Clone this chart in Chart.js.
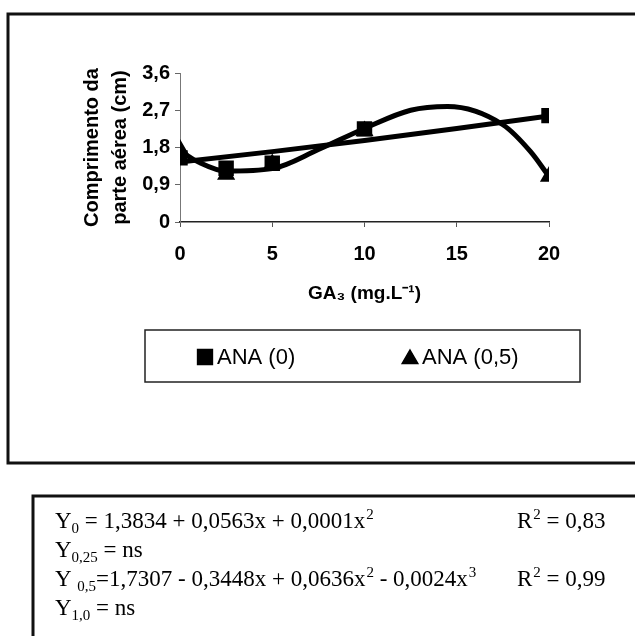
<!DOCTYPE html>
<html>
<head>
<meta charset="utf-8">
<script src="https://cdn.jsdelivr.net/npm/chart.js@4/dist/chart.umd.min.js"></script>
<style>
  html, body { margin: 0; padding: 0; background: #fff; }
  canvas { display: block; }
</style>
</head>
<body>
<canvas id="chart" width="635" height="636"></canvas>
<script>
// GA3 doses (mg/L) and shoot length (cm) for each ANA level
const doses = [0, 2.5, 5, 10, 20];
const ana0 = [1.55, 1.3, 1.42, 2.25, 2.57];
const ana05 = [1.75, 1.15, 1.4, 2.2, 1.1];

// fitted trend lines
const trendX = [0, 5, 10, 15, 20];
const trend0 = [1.45, 1.70, 1.97, 2.26, 2.56];
const curveX = [0, 1, 2.5, 5, 7.5, 10, 12.5, 14.5, 17.5, 19, 20];
const curve05 = [1.72, 1.45, 1.23, 1.29, 1.75, 2.26, 2.7, 2.79, 2.35, 1.7, 1.1];

const xTicks = [0, 5, 10, 15, 20];
const yTicks = [0, 0.9, 1.8, 2.7, 3.6];

const seriesLabels = ['ANA (0)', 'ANA (0,5)'];

// regression text under the chart
const equations = [
  { parts: [['Y'], ['0', 'sub'], [' = 1,3834 + 0,0563x + 0,0001x'], ['2', 'sup']],
    r2: [['R'], ['2', 'sup'], [' = 0,83']] },
  { parts: [['Y'], ['0,25', 'sub'], [' = ns']] },
  { parts: [['Y '], ['0,5', 'sub'], ['=1,7307 - 0,3448x + 0,0636x'], ['2', 'sup'], [' - 0,0024x'], ['3', 'sup']],
    r2: [['R'], ['2', 'sup'], [' = 0,99']] },
  { parts: [['Y'], ['1,0', 'sub'], [' = ns']] }
];

const SANS = '"Liberation Sans", Arial, sans-serif';

function pts(xs, ys) {
  return xs.map((x, i) => ({ x: x, y: ys[i] }));
}

function drawRich(ctx, parts, x, y) {
  for (let p of parts) {
    let kind = p[1];
    if (kind === 'sub') {
      ctx.font = '15px "Liberation Serif", serif';
      ctx.fillText(p[0], x, y + 5);
    } else if (kind === 'sup') {
      ctx.font = '15px "Liberation Serif", serif';
      ctx.fillText(p[0], x + 1, y - 9);
    } else {
      ctx.font = '23px "Liberation Serif", serif';
      ctx.fillText(p[0], x, y);
    }
    x += ctx.measureText(p[0]).width + (kind === 'sup' ? 1 : 0);
  }
}

const framePlugin = {
  id: 'frames',
  beforeDraw(chart) {
    let ctx = chart.ctx;
    ctx.save();
    ctx.fillStyle = '#fff';
    ctx.fillRect(0, 0, chart.width, chart.height);
    ctx.strokeStyle = '#111';
    ctx.lineWidth = 3;
    ctx.strokeRect(8, 14, 700, 449);
    ctx.strokeRect(33, 496, 700, 200);
    ctx.restore();
  },
  afterDraw(chart) {
    let ctx = chart.ctx;
    ctx.save();

    // legend box
    ctx.strokeStyle = '#222';
    ctx.lineWidth = 1.5;
    ctx.strokeRect(145, 330, 435, 52);
    let items = [
      { ds: chart.data.datasets[0], x: 205 },
      { ds: chart.data.datasets[1], x: 410 }
    ];
    ctx.textBaseline = 'middle';
    ctx.textAlign = 'left';
    for (let it of items) {
      let isRect = it.ds.pointStyle === 'rect';
      ctx.fillStyle = '#000';
      ctx.strokeStyle = '#000';
      Chart.helpers.drawPoint(ctx, {
        pointStyle: it.ds.pointStyle,
        radius: isRect ? 10.5 : 9,
        borderWidth: 1.5,
        rotation: 0
      }, it.x, isRect ? 357 : 359);
      ctx.fill();
      ctx.fillStyle = '#000';
      ctx.font = '22px ' + SANS;
      ctx.fillText(it.ds.label, it.x + 12, 358);
    }

    // equations
    ctx.fillStyle = '#000';
    ctx.textBaseline = 'alphabetic';
    let baselines = [528, 557, 586, 615];
    equations.forEach((eq, i) => {
      drawRich(ctx, eq.parts, 55, baselines[i]);
      if (eq.r2) drawRich(ctx, eq.r2, 517, baselines[i]);
    });
    ctx.restore();
  }
};

new Chart(document.getElementById('chart'), {
  type: 'scatter',
  data: {
    datasets: [
      {
        label: seriesLabels[0],
        data: pts(doses, ana0),
        pointStyle: 'rect',
        pointRadius: 9.5,
        pointBorderWidth: 2,
        backgroundColor: '#000',
        borderColor: '#000',
        showLine: false,
        order: 1
      },
      {
        label: seriesLabels[1],
        data: pts(doses, ana05),
        pointStyle: 'triangle',
        pointRadius: 8.5,
        pointBorderWidth: 2,
        backgroundColor: '#000',
        borderColor: '#000',
        showLine: false,
        order: 0
      },
      {
        label: 'trend0',
        data: pts(trendX, trend0),
        showLine: true,
        pointRadius: 0,
        borderColor: '#000',
        borderWidth: 5,
        order: 3
      },
      {
        label: 'trend05',
        data: pts(curveX, curve05),
        showLine: true,
        pointRadius: 0,
        borderColor: '#000',
        borderWidth: 5,
        cubicInterpolationMode: 'monotone',
        order: 2
      }
    ]
  },
  options: {
    responsive: false,
    animation: false,
    layout: { padding: { left: 74, right: 86, top: 73, bottom: 327 } },
    plugins: {
      legend: { display: false },
      tooltip: { enabled: false }
    },
    scales: {
      x: {
        type: 'linear',
        min: 0,
        max: 20,
        afterBuildTicks: (s) => { s.ticks = xTicks.map(v => ({ value: v })); },
        afterFit: (s) => { s.height = 87; },
        grid: { drawOnChartArea: false, drawTicks: true, tickLength: 5, color: '#555' },
        border: { color: '#222', width: 1.5, dash: [8, 2] },
        ticks: {
          padding: 15,
          color: '#000',
          font: { family: SANS, weight: 'bold', size: 20 }
        },
        title: {
          display: true,
          text: 'GA₃ (mg.L⁻¹)',
          color: '#000',
          font: { family: SANS, weight: 'bold', size: 19 }
        }
      },
      y: {
        min: 0,
        max: 3.6,
        afterBuildTicks: (s) => { s.ticks = yTicks.map(v => ({ value: v })); },
        afterFit: (s) => { s.width = 106; },
        grid: { drawOnChartArea: false, drawTicks: true, tickLength: 5, color: '#666' },
        border: { color: '#777', width: 1, dash: [2, 3] },
        ticks: {
          padding: 5,
          color: '#000',
          font: { family: SANS, weight: 'bold', size: 20 },
          callback: (v) => v === 0 ? '0' : v.toFixed(1).replace('.', ',')
        },
        title: {
          display: true,
          text: ['Comprimento da', 'parte aérea (cm)'],
          color: '#000',
          font: { family: SANS, weight: 'bold', size: 20, lineHeight: 1.4 }
        }
      }
    }
  },
  plugins: [framePlugin]
});
</script>
</body>
</html>
